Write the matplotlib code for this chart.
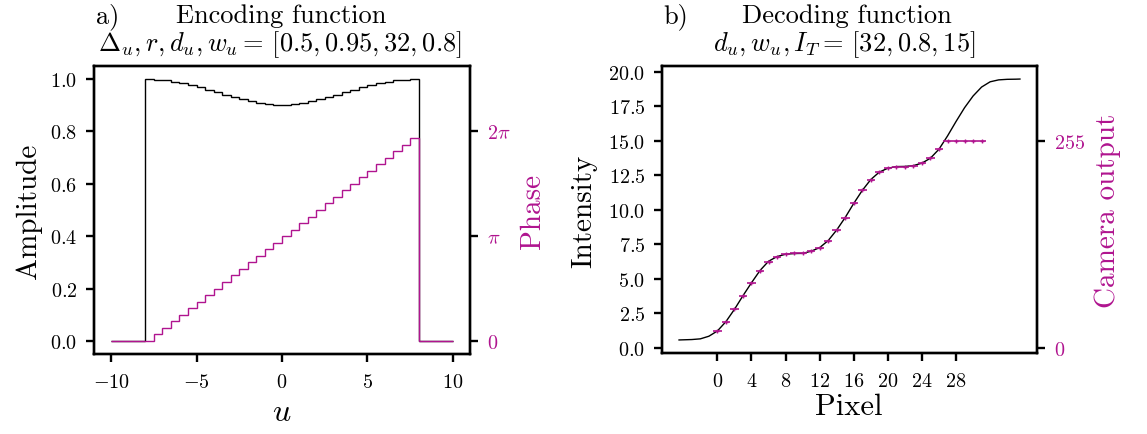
import numpy as np
import matplotlib
matplotlib.use("Agg")
import matplotlib.pyplot as plt

plt.rcParams.update({
    "font.family": "serif",
    "font.serif": ["cmr10"],
    "mathtext.fontset": "cm",
    "axes.formatter.use_mathtext": True,
    "axes.linewidth": 1.7,
    "xtick.major.width": 1.7,
    "ytick.major.width": 1.7,
    "xtick.major.size": 6,
    "ytick.major.size": 6,
    "xtick.major.pad": 8,
    "ytick.major.pad": 6,
    "xtick.labelsize": 14.5,
    "ytick.labelsize": 14.5,
})

MAG = "#b0148f"

# ---- encoding function: 32 pixels of width 0.5 on u in [-8, 8] ----
u_range = [-10.0, 10.0]
u_edges = [-8.0, -7.5, -7.0, -6.5, -6.0, -5.5, -5.0, -4.5, -4.0, -3.5, -3.0,
           -2.5, -2.0, -1.5, -1.0, -0.5, 0.0, 0.5, 1.0, 1.5, 2.0, 2.5, 3.0,
           3.5, 4.0, 4.5, 5.0, 5.5, 6.0, 6.5, 7.0, 7.5, 8.0]
amplitude = [1.000, 0.998, 0.995, 0.990, 0.984, 0.977, 0.969, 0.960,
             0.951, 0.941, 0.932, 0.924, 0.916, 0.910, 0.905, 0.902,
             0.902, 0.905, 0.910, 0.916, 0.924, 0.932, 0.941, 0.951,
             0.960, 0.969, 0.977, 0.984, 0.990, 0.995, 0.998, 1.000]
phase_over_pi = [0.0, 0.0625, 0.125, 0.1875, 0.25, 0.3125, 0.375, 0.4375,
                 0.5, 0.5625, 0.625, 0.6875, 0.75, 0.8125, 0.875, 0.9375,
                 1.0, 1.0625, 1.125, 1.1875, 1.25, 1.3125, 1.375, 1.4375,
                 1.5, 1.5625, 1.625, 1.6875, 1.75, 1.8125, 1.875, 1.9375]
w_u = 0.8

# ---- decoding function ----
curve_x = [-4.5, -4, -3, -2, -1, 0, 1, 2, 3, 4, 5, 6, 7, 8, 9, 10, 11, 12,
           13, 14, 15, 16, 17, 18, 19, 20, 21, 22, 23, 24, 25, 26, 27, 28,
           29, 30, 31, 32, 33, 34, 35, 35.5]
intensity = [0.55, 0.56, 0.58, 0.63, 0.82, 1.20, 1.88, 2.77, 3.76, 4.70,
             5.59, 6.26, 6.60, 6.77, 6.82, 6.83, 6.99, 7.25, 7.76, 8.53,
             9.44, 10.46, 11.40, 12.19, 12.73, 13.01, 13.13, 13.14, 13.20,
             13.38, 13.74, 14.39, 15.35, 16.40, 17.40, 18.25, 18.90, 19.28,
             19.42, 19.46, 19.47, 19.48]
pixels = list(range(32))
camera_output = [20, 32, 47, 64, 80, 95, 106, 112, 115, 116, 116, 119, 123,
                 132, 145, 160, 178, 194, 207, 216, 221, 223, 223, 224, 227,
                 234, 245, 255, 255, 255, 255, 255]
I_T = 15
pixel_ticks = [0, 4, 8, 12, 16, 20, 24, 28]
intensity_ticks = [0.0, 2.5, 5.0, 7.5, 10.0, 12.5, 15.0, 17.5, 20.0]

W, H = 1147, 435
fig = plt.figure(figsize=(W / 100, H / 100), dpi=100)


def px_rect(x0, y0, x1, y1):
    return [x0 / W, 1 - y1 / H, (x1 - x0) / W, (y1 - y0) / H]


# ---------------- panel a ----------------
ax1 = fig.add_axes(px_rect(94, 67, 470, 355))
amp_vals = [0.0] + amplitude + [0.0]
edges = [u_range[0]] + u_edges + [u_range[1]]
ax1.stairs(amp_vals, edges, baseline=None, color="black", lw=1.0)
ax1.set_xlim(-11, 11)
ax1.set_ylim(-0.05, 1.05)
ax1.set_yticks([0.0, 0.2, 0.4, 0.6, 0.8, 1.0])
ax1.set_xticks([-10, -5, 0, 5, 10])

ax1b = ax1.twinx()
ph_vals = [0.0] + [p * np.pi for p in phase_over_pi] + [0.0]
ax1b.stairs(ph_vals, edges, baseline=None, color=MAG, lw=1.0)
lo, hi = ax1.get_ylim()
ax1b.set_ylim(lo * 2 * np.pi / w_u, hi * 2 * np.pi / w_u)
ax1b.set_yticks([0, np.pi, 2 * np.pi])
ax1b.set_yticklabels([r"$0$", r"$\pi$", r"$2\pi$"])
ax1b.tick_params(axis="y", labelcolor=MAG)

fig.text(282 / W, 1 - 413 / H, r"$u$", ha="center", va="center", fontsize=23)
fig.text(29 / W, 1 - 211 / H, "Amplitude", rotation=90, ha="center",
         va="center", fontsize=21)
fig.text(533 / W, 1 - 211 / H, "Phase", rotation=90, ha="center",
         va="center", fontsize=21, color=MAG)
fig.text(96 / W, 1 - 23 / H, "a)", ha="left", va="baseline", fontsize=19)
fig.text(281 / W, 1 - 23 / H, "Encoding function", ha="center",
         va="baseline", fontsize=19)
fig.text(280 / W, 1 - 51 / H,
         r"$\Delta_u, r, d_u, w_u =\, [0.5, 0.95, 32, 0.8]$", ha="center",
         va="baseline", fontsize=19)

# ---------------- panel b ----------------
ax2 = fig.add_axes(px_rect(662, 67, 1037, 354))
ax2.plot(curve_x, intensity, color="black", lw=1.0)
ax2.set_xticks(pixel_ticks)
ax2.set_yticks(intensity_ticks)
ax2.margins(x=0.05, y=0.05)

ax2b = ax2.twinx()
ax2b.errorbar(pixels, camera_output, xerr=0.5, fmt="+", color=MAG, ms=3.5,
              mew=1.0, elinewidth=1.2, capsize=0)
lo, hi = ax2.get_ylim()
ax2b.set_ylim(lo * 255 / I_T, hi * 255 / I_T)
ax2b.set_yticks([0, 255])
ax2b.tick_params(axis="y", labelcolor=MAG)

fig.text(849 / W, 1 - 407 / H, "Pixel", ha="center", va="center", fontsize=22)
fig.text(584 / W, 1 - 211 / H, "Intensity", rotation=90, ha="center",
         va="center", fontsize=21)
fig.text(1108 / W, 1 - 211 / H, "Camera output", rotation=90, ha="center",
         va="center", fontsize=21, color=MAG)
fig.text(663 / W, 1 - 23 / H, "b)", ha="left", va="baseline", fontsize=19)
fig.text(847 / W, 1 - 23 / H, "Decoding function", ha="center",
         va="baseline", fontsize=19)
fig.text(844 / W, 1 - 51 / H, r"$d_u, w_u, I_T =\, [32, 0.8, 15]$",
         ha="center", va="baseline", fontsize=19)

fig.savefig("out.png", dpi=100)
